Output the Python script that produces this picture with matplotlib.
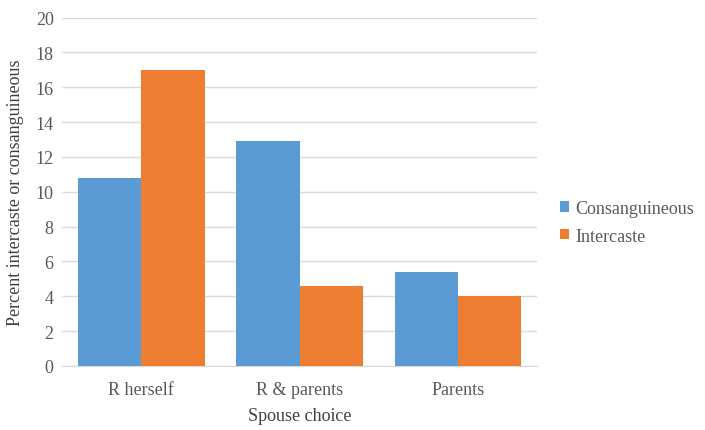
import matplotlib.pyplot as plt
import numpy as np

categories = ["R herself", "R & parents", "Parents"]
consanguineous = [10.8, 12.9, 5.4]
intercaste = [17.0, 4.6, 4.0]

plt.rcParams['font.family'] = 'serif'
plt.rcParams['font.serif'] = ['Liberation Serif', 'DejaVu Serif']
plt.rcParams['font.size'] = 13

fig = plt.figure(figsize=(7.05, 4.31), dpi=100)
ax = fig.add_axes([0.088, 0.1485, 0.674, 0.8085])

x = np.arange(len(categories))
w = 0.4
ax.bar(x - w / 2, consanguineous, w, color="#5B9BD5", label="Consanguineous", zorder=3)
ax.bar(x + w / 2, intercaste, w, color="#ED7D31", label="Intercaste", zorder=3)

ax.set_xlim(-0.5, 2.5)
ax.set_ylim(0, 20)
ax.set_yticks(range(0, 21, 2))
ax.set_xticks(x)
ax.set_xticklabels(categories)
ax.grid(axis="y", color="#d9d9d9", linewidth=1, zorder=0)
for s in ["top", "right", "left"]:
    ax.spines[s].set_visible(False)
ax.spines["bottom"].set_color("#d9d9d9")
ax.tick_params(length=0, colors="#595959", labelsize=13)
ax.tick_params(axis="x", pad=11)
ax.tick_params(axis="y", pad=6)
ax.set_xlabel("Spouse choice", color="#404040", labelpad=6)
ax.set_ylabel("Percent intercaste or consanguineous", color="#404040", labelpad=8)

fig.legend(loc="center left", bbox_to_anchor=(0.771, 0.482), frameon=False,
           handlelength=0.5, handleheight=0.5, handletextpad=0.35,
           labelspacing=0.6, labelcolor="#595959")

fig.savefig("out.png", dpi=100)
